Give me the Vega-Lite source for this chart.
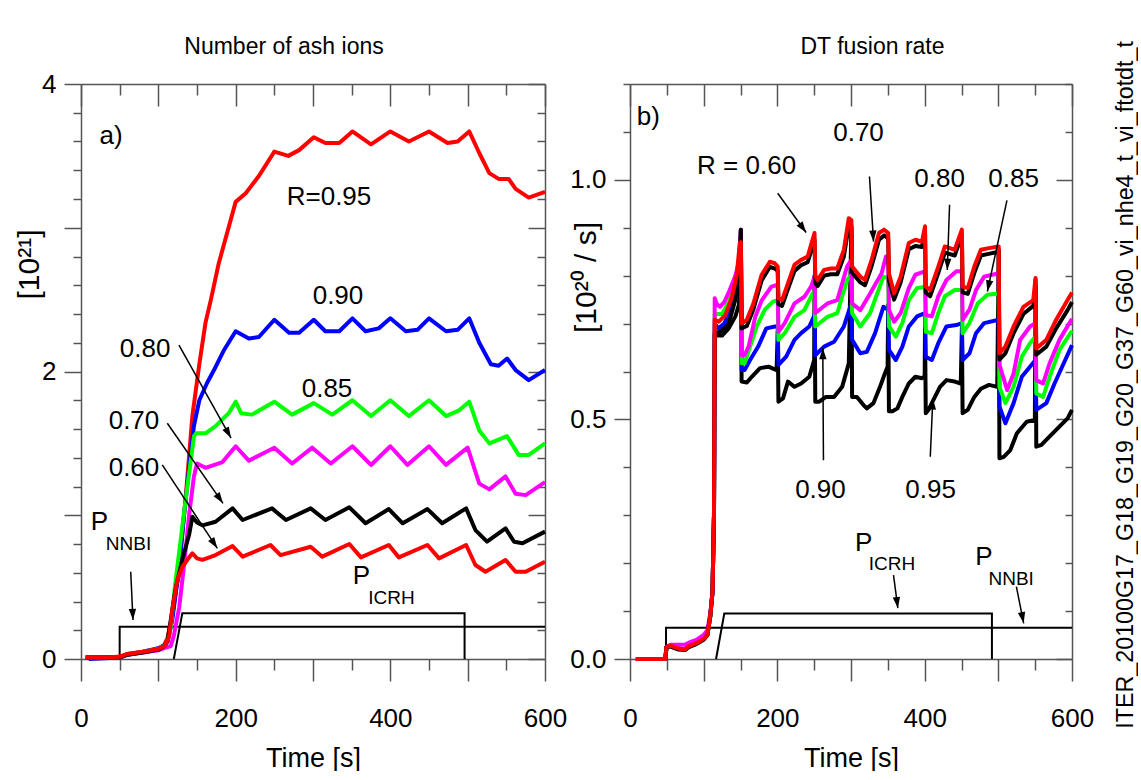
{
  "$schema": "https://vega.github.io/schema/vega-lite/v6.json",
  "background": "white",
  "padding": {"left": 14, "top": 36, "right": 0, "bottom": 0},
  "spacing": 85,
  "bounds": "flush",
  "resolve": {"scale": {"color": "independent"}},
  "config": {
    "font": "Liberation Sans, Arial, sans-serif",
    "view": {"stroke": null},
    "axis": {"grid": false, "domainColor": "#555", "domainWidth": 1.5, "tickColor": "#555", "tickWidth": 1.5, "labelColor": "black", "titleColor": "black", "labelFontSize": 26, "titleFontSize": 27, "titleFontWeight": "normal", "labelOverlap": false, "labelFlush": false}
  },
  "datasets": {
    "ash": [
      {"R":"0.95","t":6,"v":0.01},{"R":"0.95","t":30,"v":0.01},{"R":"0.95","t":50,"v":0.015},{"R":"0.95","t":60,"v":0.035},{"R":"0.95","t":80,"v":0.05},{"R":"0.95","t":100,"v":0.07},{"R":"0.95","t":108,"v":0.1},{"R":"0.95","t":112,"v":0.15},{"R":"0.95","t":118,"v":0.3},{"R":"0.95","t":127,"v":0.64},{"R":"0.95","t":135,"v":1.1},{"R":"0.95","t":144,"v":1.69},{"R":"0.95","t":153,"v":2.05},{"R":"0.95","t":161,"v":2.34},{"R":"0.95","t":168,"v":2.5},{"R":"0.95","t":178,"v":2.75},{"R":"0.95","t":200,"v":3.18},{"R":"0.95","t":213,"v":3.24},{"R":"0.95","t":230,"v":3.36},{"R":"0.95","t":250,"v":3.53},{"R":"0.95","t":268,"v":3.5},{"R":"0.95","t":282,"v":3.54},{"R":"0.95","t":301,"v":3.63},{"R":"0.95","t":316,"v":3.59},{"R":"0.95","t":334,"v":3.59},{"R":"0.95","t":351,"v":3.67},{"R":"0.95","t":375,"v":3.58},{"R":"0.95","t":400,"v":3.67},{"R":"0.95","t":424,"v":3.6},{"R":"0.95","t":450,"v":3.67},{"R":"0.95","t":474,"v":3.59},{"R":"0.95","t":487,"v":3.6},{"R":"0.95","t":502,"v":3.67},{"R":"0.95","t":515,"v":3.52},{"R":"0.95","t":528,"v":3.38},{"R":"0.95","t":540,"v":3.34},{"R":"0.95","t":553,"v":3.34},{"R":"0.95","t":562,"v":3.27},{"R":"0.95","t":579,"v":3.21},{"R":"0.95","t":600,"v":3.25},
      {"R":"0.90","t":10,"v":0.0},{"R":"0.90","t":30,"v":0.005},{"R":"0.90","t":50,"v":0.01},{"R":"0.90","t":60,"v":0.03},{"R":"0.90","t":80,"v":0.05},{"R":"0.90","t":100,"v":0.075},{"R":"0.90","t":108,"v":0.095},{"R":"0.90","t":112,"v":0.12},{"R":"0.90","t":118,"v":0.27},{"R":"0.90","t":127,"v":0.64},{"R":"0.90","t":133,"v":0.99},{"R":"0.90","t":140,"v":1.34},{"R":"0.90","t":146,"v":1.62},{"R":"0.90","t":153,"v":1.8},{"R":"0.90","t":163,"v":1.92},{"R":"0.90","t":172,"v":2.01},{"R":"0.90","t":185,"v":2.15},{"R":"0.90","t":200,"v":2.28},{"R":"0.90","t":217,"v":2.23},{"R":"0.90","t":230,"v":2.24},{"R":"0.90","t":250,"v":2.36},{"R":"0.90","t":269,"v":2.27},{"R":"0.90","t":282,"v":2.27},{"R":"0.90","t":301,"v":2.36},{"R":"0.90","t":316,"v":2.28},{"R":"0.90","t":334,"v":2.28},{"R":"0.90","t":351,"v":2.37},{"R":"0.90","t":368,"v":2.28},{"R":"0.90","t":385,"v":2.3},{"R":"0.90","t":400,"v":2.37},{"R":"0.90","t":420,"v":2.28},{"R":"0.90","t":435,"v":2.29},{"R":"0.90","t":450,"v":2.37},{"R":"0.90","t":472,"v":2.28},{"R":"0.90","t":487,"v":2.29},{"R":"0.90","t":502,"v":2.37},{"R":"0.90","t":515,"v":2.2},{"R":"0.90","t":530,"v":2.05},{"R":"0.90","t":540,"v":2.04},{"R":"0.90","t":551,"v":2.09},{"R":"0.90","t":562,"v":2.01},{"R":"0.90","t":579,"v":1.94},{"R":"0.90","t":600,"v":2.01},
      {"R":"0.85","t":6,"v":0.01},{"R":"0.85","t":30,"v":0.01},{"R":"0.85","t":50,"v":0.012},{"R":"0.85","t":60,"v":0.03},{"R":"0.85","t":80,"v":0.05},{"R":"0.85","t":100,"v":0.07},{"R":"0.85","t":110,"v":0.1},{"R":"0.85","t":116,"v":0.22},{"R":"0.85","t":122,"v":0.53},{"R":"0.85","t":131,"v":0.92},{"R":"0.85","t":137.5,"v":1.2},{"R":"0.85","t":142,"v":1.38},{"R":"0.85","t":146,"v":1.55},{"R":"0.85","t":149,"v":1.57},{"R":"0.85","t":161,"v":1.57},{"R":"0.85","t":174,"v":1.62},{"R":"0.85","t":191,"v":1.71},{"R":"0.85","t":200,"v":1.79},{"R":"0.85","t":207,"v":1.71},{"R":"0.85","t":221,"v":1.7},{"R":"0.85","t":250,"v":1.79},{"R":"0.85","t":273,"v":1.7},{"R":"0.85","t":301,"v":1.78},{"R":"0.85","t":325,"v":1.7},{"R":"0.85","t":351,"v":1.8},{"R":"0.85","t":375,"v":1.69},{"R":"0.85","t":400,"v":1.8},{"R":"0.85","t":424,"v":1.69},{"R":"0.85","t":450,"v":1.8},{"R":"0.85","t":472,"v":1.69},{"R":"0.85","t":489,"v":1.73},{"R":"0.85","t":502,"v":1.79},{"R":"0.85","t":515,"v":1.59},{"R":"0.85","t":528,"v":1.5},{"R":"0.85","t":551,"v":1.55},{"R":"0.85","t":566,"v":1.42},{"R":"0.85","t":579,"v":1.42},{"R":"0.85","t":600,"v":1.5},
      {"R":"0.80","t":6,"v":0.01},{"R":"0.80","t":30,"v":0.01},{"R":"0.80","t":50,"v":0.012},{"R":"0.80","t":60,"v":0.03},{"R":"0.80","t":80,"v":0.045},{"R":"0.80","t":100,"v":0.06},{"R":"0.80","t":110,"v":0.08},{"R":"0.80","t":116,"v":0.09},{"R":"0.80","t":120,"v":0.16},{"R":"0.80","t":127,"v":0.36},{"R":"0.80","t":133,"v":0.64},{"R":"0.80","t":140,"v":1.01},{"R":"0.80","t":146,"v":1.27},{"R":"0.80","t":150,"v":1.36},{"R":"0.80","t":161,"v":1.33},{"R":"0.80","t":183,"v":1.37},{"R":"0.80","t":200,"v":1.48},{"R":"0.80","t":217,"v":1.38},{"R":"0.80","t":250,"v":1.47},{"R":"0.80","t":273,"v":1.36},{"R":"0.80","t":299,"v":1.47},{"R":"0.80","t":323,"v":1.36},{"R":"0.80","t":351,"v":1.48},{"R":"0.80","t":375,"v":1.35},{"R":"0.80","t":400,"v":1.48},{"R":"0.80","t":422,"v":1.35},{"R":"0.80","t":450,"v":1.48},{"R":"0.80","t":472,"v":1.35},{"R":"0.80","t":500,"v":1.47},{"R":"0.80","t":515,"v":1.22},{"R":"0.80","t":528,"v":1.18},{"R":"0.80","t":549,"v":1.27},{"R":"0.80","t":562,"v":1.15},{"R":"0.80","t":575,"v":1.14},{"R":"0.80","t":600,"v":1.23},
      {"R":"0.70","t":6,"v":0.01},{"R":"0.70","t":30,"v":0.01},{"R":"0.70","t":50,"v":0.012},{"R":"0.70","t":60,"v":0.03},{"R":"0.70","t":80,"v":0.045},{"R":"0.70","t":100,"v":0.065},{"R":"0.70","t":108,"v":0.09},{"R":"0.70","t":112,"v":0.13},{"R":"0.70","t":116,"v":0.27},{"R":"0.70","t":122,"v":0.48},{"R":"0.70","t":131,"v":0.69},{"R":"0.70","t":140,"v":0.87},{"R":"0.70","t":144,"v":0.99},{"R":"0.70","t":150,"v":0.95},{"R":"0.70","t":157,"v":0.93},{"R":"0.70","t":174,"v":0.955},{"R":"0.70","t":196,"v":1.048},{"R":"0.70","t":209,"v":0.967},{"R":"0.70","t":247,"v":1.048},{"R":"0.70","t":265,"v":0.967},{"R":"0.70","t":297,"v":1.048},{"R":"0.70","t":316,"v":0.967},{"R":"0.70","t":347,"v":1.055},{"R":"0.70","t":368,"v":0.944},{"R":"0.70","t":398,"v":1.043},{"R":"0.70","t":416,"v":0.944},{"R":"0.70","t":448,"v":1.043},{"R":"0.70","t":467,"v":0.944},{"R":"0.70","t":498,"v":1.048},{"R":"0.70","t":510,"v":0.897},{"R":"0.70","t":525,"v":0.816},{"R":"0.70","t":549,"v":0.909},{"R":"0.70","t":560,"v":0.816},{"R":"0.70","t":571,"v":0.805},{"R":"0.70","t":600,"v":0.886},
      {"R":"0.60","t":6,"v":0.01},{"R":"0.60","t":30,"v":0.01},{"R":"0.60","t":50,"v":0.015},{"R":"0.60","t":60,"v":0.035},{"R":"0.60","t":80,"v":0.05},{"R":"0.60","t":100,"v":0.07},{"R":"0.60","t":108,"v":0.09},{"R":"0.60","t":112,"v":0.13},{"R":"0.60","t":114,"v":0.16},{"R":"0.60","t":118,"v":0.34},{"R":"0.60","t":124.5,"v":0.55},{"R":"0.60","t":131,"v":0.64},{"R":"0.60","t":137.5,"v":0.69},{"R":"0.60","t":144,"v":0.735},{"R":"0.60","t":150,"v":0.7},{"R":"0.60","t":157,"v":0.69},{"R":"0.60","t":174,"v":0.723},{"R":"0.60","t":196,"v":0.786},{"R":"0.60","t":209,"v":0.712},{"R":"0.60","t":245,"v":0.793},{"R":"0.60","t":258,"v":0.723},{"R":"0.60","t":297,"v":0.781},{"R":"0.60","t":312,"v":0.712},{"R":"0.60","t":347,"v":0.8},{"R":"0.60","t":362,"v":0.707},{"R":"0.60","t":398,"v":0.793},{"R":"0.60","t":411,"v":0.707},{"R":"0.60","t":448,"v":0.793},{"R":"0.60","t":463,"v":0.7},{"R":"0.60","t":498,"v":0.793},{"R":"0.60","t":510,"v":0.654},{"R":"0.60","t":523,"v":0.607},{"R":"0.60","t":549,"v":0.689},{"R":"0.60","t":562,"v":0.607},{"R":"0.60","t":575,"v":0.607},{"R":"0.60","t":600,"v":0.677}
    ],
    "fus": [
      {"R":"0.95","t":8,"v":0},{"R":"0.95","t":48,"v":0},{"R":"0.95","t":49.5,"v":0.025},{"R":"0.95","t":55,"v":0.028},{"R":"0.95","t":65,"v":0.022},{"R":"0.95","t":75,"v":0.02},{"R":"0.95","t":80,"v":0.027},{"R":"0.95","t":90,"v":0.033},{"R":"0.95","t":100,"v":0.042},{"R":"0.95","t":105,"v":0.05},{"R":"0.95","t":109,"v":0.09},{"R":"0.95","t":112,"v":0.14},{"R":"0.95","t":114,"v":0.3},{"R":"0.95","t":115,"v":0.675},{"R":"0.95","t":125,"v":0.675},{"R":"0.95","t":134,"v":0.69},{"R":"0.95","t":143,"v":0.715},{"R":"0.95","t":148,"v":0.74},{"R":"0.95","t":150.5,"v":0.896},{"R":"0.95","t":151.5,"v":0.579},{"R":"0.95","t":158.6,"v":0.577},{"R":"0.95","t":165.3,"v":0.589},{"R":"0.95","t":176.5,"v":0.607},{"R":"0.95","t":188,"v":0.61},{"R":"0.95","t":199,"v":0.603},{"R":"0.95","t":200.5,"v":0.683},{"R":"0.95","t":201.5,"v":0.537},{"R":"0.95","t":207.7,"v":0.544},{"R":"0.95","t":214.4,"v":0.579},{"R":"0.95","t":223.3,"v":0.568},{"R":"0.95","t":232.3,"v":0.575},{"R":"0.95","t":243.4,"v":0.589},{"R":"0.95","t":250,"v":0.624},{"R":"0.95","t":250.5,"v":0.8},{"R":"0.95","t":251.5,"v":0.537},{"R":"0.95","t":257,"v":0.537},{"R":"0.95","t":266,"v":0.547},{"R":"0.95","t":277,"v":0.547},{"R":"0.95","t":288,"v":0.568},{"R":"0.95","t":297,"v":0.617},{"R":"0.95","t":300.5,"v":0.9},{"R":"0.95","t":301.5,"v":0.547},{"R":"0.95","t":308,"v":0.547},{"R":"0.95","t":317,"v":0.53},{"R":"0.95","t":321.5,"v":0.523},{"R":"0.95","t":330.5,"v":0.534},{"R":"0.95","t":339.4,"v":0.568},{"R":"0.95","t":346,"v":0.596},{"R":"0.95","t":349.7,"v":0.61},{"R":"0.95","t":350.5,"v":0.74},{"R":"0.95","t":351.5,"v":0.517},{"R":"0.95","t":356.3,"v":0.517},{"R":"0.95","t":363,"v":0.523},{"R":"0.95","t":369.7,"v":0.547},{"R":"0.95","t":378.5,"v":0.575},{"R":"0.95","t":387.4,"v":0.589},{"R":"0.95","t":396.3,"v":0.586},{"R":"0.95","t":400,"v":0.59},{"R":"0.95","t":400.5,"v":0.69},{"R":"0.95","t":401.5,"v":0.513},{"R":"0.95","t":405.2,"v":0.52},{"R":"0.95","t":411.9,"v":0.541},{"R":"0.95","t":420.8,"v":0.568},{"R":"0.95","t":429.6,"v":0.582},{"R":"0.95","t":440.8,"v":0.579},{"R":"0.95","t":449,"v":0.575},{"R":"0.95","t":450.5,"v":0.69},{"R":"0.95","t":451.5,"v":0.513},{"R":"0.95","t":458.5,"v":0.52},{"R":"0.95","t":467.4,"v":0.547},{"R":"0.95","t":476.3,"v":0.564},{"R":"0.95","t":487.4,"v":0.572},{"R":"0.95","t":498.5,"v":0.568},{"R":"0.95","t":500.5,"v":0.854},{"R":"0.95","t":501.5,"v":0.419},{"R":"0.95","t":507.4,"v":0.422},{"R":"0.95","t":516.3,"v":0.436},{"R":"0.95","t":525.2,"v":0.471},{"R":"0.95","t":538.5,"v":0.495},{"R":"0.95","t":549.6,"v":0.499},{"R":"0.95","t":550.5,"v":0.791},{"R":"0.95","t":551.5,"v":0.443},{"R":"0.95","t":558.5,"v":0.447},{"R":"0.95","t":567.4,"v":0.461},{"R":"0.95","t":578.5,"v":0.478},{"R":"0.95","t":594,"v":0.502},{"R":"0.95","t":600,"v":0.52},
      {"R":"0.90","t":8,"v":0},{"R":"0.90","t":48,"v":0},{"R":"0.90","t":49.5,"v":0.025},{"R":"0.90","t":55,"v":0.028},{"R":"0.90","t":65,"v":0.022},{"R":"0.90","t":75,"v":0.02},{"R":"0.90","t":80,"v":0.027},{"R":"0.90","t":90,"v":0.033},{"R":"0.90","t":100,"v":0.042},{"R":"0.90","t":105,"v":0.05},{"R":"0.90","t":109,"v":0.09},{"R":"0.90","t":112,"v":0.14},{"R":"0.90","t":114,"v":0.3},{"R":"0.90","t":115,"v":0.7},{"R":"0.90","t":120,"v":0.69},{"R":"0.90","t":128,"v":0.7},{"R":"0.90","t":134,"v":0.72},{"R":"0.90","t":143,"v":0.76},{"R":"0.90","t":148,"v":0.8},{"R":"0.90","t":150.5,"v":0.87},{"R":"0.90","t":151.5,"v":0.603},{"R":"0.90","t":155.5,"v":0.603},{"R":"0.90","t":163,"v":0.624},{"R":"0.90","t":174,"v":0.652},{"R":"0.90","t":185,"v":0.69},{"R":"0.90","t":197,"v":0.694},{"R":"0.90","t":200.5,"v":0.694},{"R":"0.90","t":201.5,"v":0.614},{"R":"0.90","t":212,"v":0.631},{"R":"0.90","t":223.3,"v":0.666},{"R":"0.90","t":232.3,"v":0.68},{"R":"0.90","t":243.4,"v":0.694},{"R":"0.90","t":250.5,"v":0.718},{"R":"0.90","t":251.5,"v":0.634},{"R":"0.90","t":263.5,"v":0.652},{"R":"0.90","t":277,"v":0.662},{"R":"0.90","t":290.3,"v":0.694},{"R":"0.90","t":300.5,"v":0.742},{"R":"0.90","t":301.5,"v":0.666},{"R":"0.90","t":312.6,"v":0.638},{"R":"0.90","t":321.5,"v":0.641},{"R":"0.90","t":332.7,"v":0.68},{"R":"0.90","t":344,"v":0.735},{"R":"0.90","t":350.5,"v":0.729},{"R":"0.90","t":351.5,"v":0.645},{"R":"0.90","t":360.8,"v":0.624},{"R":"0.90","t":369.7,"v":0.652},{"R":"0.90","t":378.5,"v":0.694},{"R":"0.90","t":389.6,"v":0.715},{"R":"0.90","t":400.5,"v":0.722},{"R":"0.90","t":401.5,"v":0.631},{"R":"0.90","t":409.7,"v":0.624},{"R":"0.90","t":418.5,"v":0.659},{"R":"0.90","t":429.6,"v":0.694},{"R":"0.90","t":443,"v":0.697},{"R":"0.90","t":450.5,"v":0.701},{"R":"0.90","t":451.5,"v":0.624},{"R":"0.90","t":460.8,"v":0.638},{"R":"0.90","t":469.7,"v":0.68},{"R":"0.90","t":480.8,"v":0.701},{"R":"0.90","t":500.5,"v":0.708},{"R":"0.90","t":501.5,"v":0.527},{"R":"0.90","t":509.6,"v":0.492},{"R":"0.90","t":520.7,"v":0.534},{"R":"0.90","t":531.9,"v":0.589},{"R":"0.90","t":543,"v":0.61},{"R":"0.90","t":550.5,"v":0.624},{"R":"0.90","t":551.5,"v":0.52},{"R":"0.90","t":565.2,"v":0.534},{"R":"0.90","t":576.3,"v":0.575},{"R":"0.90","t":600,"v":0.655},
      {"R":"0.85","t":8,"v":0},{"R":"0.85","t":48,"v":0},{"R":"0.85","t":49.5,"v":0.025},{"R":"0.85","t":55,"v":0.028},{"R":"0.85","t":65,"v":0.022},{"R":"0.85","t":75,"v":0.02},{"R":"0.85","t":80,"v":0.027},{"R":"0.85","t":90,"v":0.033},{"R":"0.85","t":100,"v":0.042},{"R":"0.85","t":105,"v":0.05},{"R":"0.85","t":109,"v":0.09},{"R":"0.85","t":112,"v":0.14},{"R":"0.85","t":114,"v":0.3},{"R":"0.85","t":115,"v":0.72},{"R":"0.85","t":125,"v":0.72},{"R":"0.85","t":134,"v":0.745},{"R":"0.85","t":143,"v":0.79},{"R":"0.85","t":148,"v":0.82},{"R":"0.85","t":150.5,"v":0.88},{"R":"0.85","t":151.5,"v":0.617},{"R":"0.85","t":155.5,"v":0.617},{"R":"0.85","t":163,"v":0.652},{"R":"0.85","t":172,"v":0.694},{"R":"0.85","t":183,"v":0.729},{"R":"0.85","t":194,"v":0.746},{"R":"0.85","t":200.5,"v":0.749},{"R":"0.85","t":201.5,"v":0.666},{"R":"0.85","t":210,"v":0.68},{"R":"0.85","t":223.3,"v":0.714},{"R":"0.85","t":236.7,"v":0.728},{"R":"0.85","t":247.9,"v":0.763},{"R":"0.85","t":250.5,"v":0.765},{"R":"0.85","t":251.5,"v":0.694},{"R":"0.85","t":268,"v":0.714},{"R":"0.85","t":281.4,"v":0.722},{"R":"0.85","t":294.7,"v":0.791},{"R":"0.85","t":300.5,"v":0.802},{"R":"0.85","t":301.5,"v":0.722},{"R":"0.85","t":312.6,"v":0.694},{"R":"0.85","t":326,"v":0.722},{"R":"0.85","t":344,"v":0.798},{"R":"0.85","t":350.5,"v":0.795},{"R":"0.85","t":351.5,"v":0.694},{"R":"0.85","t":360.8,"v":0.673},{"R":"0.85","t":369.7,"v":0.701},{"R":"0.85","t":378.5,"v":0.749},{"R":"0.85","t":389.6,"v":0.774},{"R":"0.85","t":400.5,"v":0.777},{"R":"0.85","t":401.5,"v":0.683},{"R":"0.85","t":409.7,"v":0.68},{"R":"0.85","t":418.5,"v":0.722},{"R":"0.85","t":427.4,"v":0.757},{"R":"0.85","t":440.8,"v":0.77},{"R":"0.85","t":450.5,"v":0.77},{"R":"0.85","t":451.5,"v":0.68},{"R":"0.85","t":460.8,"v":0.701},{"R":"0.85","t":471.9,"v":0.742},{"R":"0.85","t":485.2,"v":0.76},{"R":"0.85","t":500.5,"v":0.763},{"R":"0.85","t":501.5,"v":0.568},{"R":"0.85","t":509.6,"v":0.534},{"R":"0.85","t":520.7,"v":0.568},{"R":"0.85","t":531.9,"v":0.631},{"R":"0.85","t":543,"v":0.659},{"R":"0.85","t":550.5,"v":0.673},{"R":"0.85","t":551.5,"v":0.554},{"R":"0.85","t":560.8,"v":0.547},{"R":"0.85","t":569.6,"v":0.589},{"R":"0.85","t":583,"v":0.645},{"R":"0.85","t":600,"v":0.685},
      {"R":"0.80","t":8,"v":0},{"R":"0.80","t":48,"v":0},{"R":"0.80","t":49.5,"v":0.025},{"R":"0.80","t":55,"v":0.03},{"R":"0.80","t":65,"v":0.03},{"R":"0.80","t":75,"v":0.03},{"R":"0.80","t":80,"v":0.034},{"R":"0.80","t":90,"v":0.04},{"R":"0.80","t":100,"v":0.05},{"R":"0.80","t":105,"v":0.06},{"R":"0.80","t":109,"v":0.095},{"R":"0.80","t":112,"v":0.14},{"R":"0.80","t":114,"v":0.3},{"R":"0.80","t":115,"v":0.753},{"R":"0.80","t":118,"v":0.74},{"R":"0.80","t":122,"v":0.735},{"R":"0.80","t":128,"v":0.745},{"R":"0.80","t":134,"v":0.765},{"R":"0.80","t":143,"v":0.8},{"R":"0.80","t":148,"v":0.83},{"R":"0.80","t":150.5,"v":0.896},{"R":"0.80","t":151.5,"v":0.634},{"R":"0.80","t":155.5,"v":0.634},{"R":"0.80","t":161,"v":0.652},{"R":"0.80","t":170,"v":0.714},{"R":"0.80","t":179,"v":0.749},{"R":"0.80","t":192,"v":0.777},{"R":"0.80","t":200.5,"v":0.781},{"R":"0.80","t":201.5,"v":0.683},{"R":"0.80","t":210,"v":0.701},{"R":"0.80","t":223.3,"v":0.742},{"R":"0.80","t":236.7,"v":0.756},{"R":"0.80","t":245.8,"v":0.777},{"R":"0.80","t":250.5,"v":0.798},{"R":"0.80","t":251.5,"v":0.722},{"R":"0.80","t":268,"v":0.742},{"R":"0.80","t":281.4,"v":0.749},{"R":"0.80","t":294.7,"v":0.819},{"R":"0.80","t":300.5,"v":0.833},{"R":"0.80","t":301.5,"v":0.742},{"R":"0.80","t":312.6,"v":0.728},{"R":"0.80","t":326,"v":0.763},{"R":"0.80","t":341.6,"v":0.805},{"R":"0.80","t":347.4,"v":0.84},{"R":"0.80","t":350.5,"v":0.836},{"R":"0.80","t":351.5,"v":0.729},{"R":"0.80","t":358.5,"v":0.704},{"R":"0.80","t":367.4,"v":0.722},{"R":"0.80","t":378.5,"v":0.774},{"R":"0.80","t":387.4,"v":0.802},{"R":"0.80","t":400.5,"v":0.809},{"R":"0.80","t":401.5,"v":0.718},{"R":"0.80","t":409.7,"v":0.715},{"R":"0.80","t":418.5,"v":0.757},{"R":"0.80","t":429.6,"v":0.791},{"R":"0.80","t":443,"v":0.809},{"R":"0.80","t":450.5,"v":0.809},{"R":"0.80","t":451.5,"v":0.708},{"R":"0.80","t":460.8,"v":0.729},{"R":"0.80","t":469.7,"v":0.77},{"R":"0.80","t":480.8,"v":0.798},{"R":"0.80","t":500.5,"v":0.805},{"R":"0.80","t":501.5,"v":0.614},{"R":"0.80","t":512,"v":0.561},{"R":"0.80","t":520.7,"v":0.596},{"R":"0.80","t":529.6,"v":0.666},{"R":"0.80","t":543,"v":0.694},{"R":"0.80","t":550.5,"v":0.701},{"R":"0.80","t":551.5,"v":0.582},{"R":"0.80","t":560.8,"v":0.575},{"R":"0.80","t":569.6,"v":0.617},{"R":"0.80","t":583,"v":0.666},{"R":"0.80","t":600,"v":0.71},
      {"R":"0.70","t":8,"v":0},{"R":"0.70","t":48,"v":0},{"R":"0.70","t":49.5,"v":0.025},{"R":"0.70","t":55,"v":0.026},{"R":"0.70","t":65,"v":0.02},{"R":"0.70","t":75,"v":0.019},{"R":"0.70","t":80,"v":0.025},{"R":"0.70","t":90,"v":0.031},{"R":"0.70","t":100,"v":0.04},{"R":"0.70","t":105,"v":0.05},{"R":"0.70","t":109,"v":0.09},{"R":"0.70","t":112,"v":0.14},{"R":"0.70","t":114,"v":0.3},{"R":"0.70","t":115,"v":0.68},{"R":"0.70","t":123,"v":0.683},{"R":"0.70","t":134,"v":0.7},{"R":"0.70","t":143,"v":0.75},{"R":"0.70","t":148,"v":0.82},{"R":"0.70","t":150.5,"v":0.896},{"R":"0.70","t":151.5,"v":0.69},{"R":"0.70","t":158.6,"v":0.695},{"R":"0.70","t":167.5,"v":0.73},{"R":"0.70","t":178.7,"v":0.79},{"R":"0.70","t":189.8,"v":0.818},{"R":"0.70","t":196.5,"v":0.815},{"R":"0.70","t":200.5,"v":0.81},{"R":"0.70","t":201.5,"v":0.74},{"R":"0.70","t":206.4,"v":0.737},{"R":"0.70","t":214.4,"v":0.772},{"R":"0.70","t":223.3,"v":0.81},{"R":"0.70","t":232.3,"v":0.822},{"R":"0.70","t":241.2,"v":0.828},{"R":"0.70","t":246.5,"v":0.855},{"R":"0.70","t":250.5,"v":0.875},{"R":"0.70","t":251.5,"v":0.785},{"R":"0.70","t":254.6,"v":0.778},{"R":"0.70","t":263.5,"v":0.8},{"R":"0.70","t":272.4,"v":0.803},{"R":"0.70","t":281.4,"v":0.803},{"R":"0.70","t":290.3,"v":0.84},{"R":"0.70","t":297,"v":0.905},{"R":"0.70","t":300.5,"v":0.905},{"R":"0.70","t":301.5,"v":0.806},{"R":"0.70","t":312.6,"v":0.786},{"R":"0.70","t":319,"v":0.78},{"R":"0.70","t":328,"v":0.82},{"R":"0.70","t":338,"v":0.875},{"R":"0.70","t":345,"v":0.884},{"R":"0.70","t":350.5,"v":0.878},{"R":"0.70","t":351.5,"v":0.79},{"R":"0.70","t":358.5,"v":0.75},{"R":"0.70","t":367.4,"v":0.786},{"R":"0.70","t":378.5,"v":0.855},{"R":"0.70","t":387.4,"v":0.862},{"R":"0.70","t":396.3,"v":0.86},{"R":"0.70","t":400.5,"v":0.89},{"R":"0.70","t":401.5,"v":0.765},{"R":"0.70","t":407.4,"v":0.757},{"R":"0.70","t":418.5,"v":0.806},{"R":"0.70","t":427.4,"v":0.848},{"R":"0.70","t":440.8,"v":0.842},{"R":"0.70","t":450.5,"v":0.885},{"R":"0.70","t":451.5,"v":0.765},{"R":"0.70","t":458.5,"v":0.762},{"R":"0.70","t":467.4,"v":0.806},{"R":"0.70","t":476.3,"v":0.842},{"R":"0.70","t":485.2,"v":0.845},{"R":"0.70","t":500.5,"v":0.85},{"R":"0.70","t":501.5,"v":0.625},{"R":"0.70","t":509.6,"v":0.638},{"R":"0.70","t":520.7,"v":0.68},{"R":"0.70","t":534,"v":0.72},{"R":"0.70","t":547.4,"v":0.737},{"R":"0.70","t":550.5,"v":0.78},{"R":"0.70","t":551.5,"v":0.635},{"R":"0.70","t":565.2,"v":0.652},{"R":"0.70","t":578.5,"v":0.69},{"R":"0.70","t":594,"v":0.728},{"R":"0.70","t":600,"v":0.745},
      {"R":"0.60","t":8,"v":0},{"R":"0.60","t":48,"v":0},{"R":"0.60","t":49.5,"v":0.025},{"R":"0.60","t":55,"v":0.028},{"R":"0.60","t":65,"v":0.022},{"R":"0.60","t":75,"v":0.02},{"R":"0.60","t":80,"v":0.027},{"R":"0.60","t":90,"v":0.033},{"R":"0.60","t":100,"v":0.042},{"R":"0.60","t":105,"v":0.05},{"R":"0.60","t":109,"v":0.09},{"R":"0.60","t":112,"v":0.14},{"R":"0.60","t":114,"v":0.3},{"R":"0.60","t":115,"v":0.708},{"R":"0.60","t":120.6,"v":0.704},{"R":"0.60","t":129.6,"v":0.718},{"R":"0.60","t":138.5,"v":0.756},{"R":"0.60","t":145,"v":0.802},{"R":"0.60","t":149,"v":0.868},{"R":"0.60","t":150.5,"v":0.87},{"R":"0.60","t":151.5,"v":0.7},{"R":"0.60","t":158.6,"v":0.708},{"R":"0.60","t":167.5,"v":0.742},{"R":"0.60","t":178.7,"v":0.802},{"R":"0.60","t":189.8,"v":0.829},{"R":"0.60","t":196.5,"v":0.826},{"R":"0.60","t":200.5,"v":0.819},{"R":"0.60","t":201.5,"v":0.753},{"R":"0.60","t":206.4,"v":0.749},{"R":"0.60","t":214.4,"v":0.784},{"R":"0.60","t":223.3,"v":0.823},{"R":"0.60","t":232.3,"v":0.833},{"R":"0.60","t":241.2,"v":0.84},{"R":"0.60","t":246.5,"v":0.868},{"R":"0.60","t":250.5,"v":0.889},{"R":"0.60","t":251.5,"v":0.8},{"R":"0.60","t":254.6,"v":0.791},{"R":"0.60","t":263.5,"v":0.812},{"R":"0.60","t":272.4,"v":0.815},{"R":"0.60","t":281.4,"v":0.815},{"R":"0.60","t":290.3,"v":0.854},{"R":"0.60","t":297,"v":0.92},{"R":"0.60","t":300.5,"v":0.916},{"R":"0.60","t":301.5,"v":0.819},{"R":"0.60","t":312.6,"v":0.798},{"R":"0.60","t":319,"v":0.791},{"R":"0.60","t":328,"v":0.833},{"R":"0.60","t":338,"v":0.889},{"R":"0.60","t":345,"v":0.896},{"R":"0.60","t":350.5,"v":0.889},{"R":"0.60","t":351.5,"v":0.805},{"R":"0.60","t":358.5,"v":0.763},{"R":"0.60","t":367.4,"v":0.798},{"R":"0.60","t":378.5,"v":0.868},{"R":"0.60","t":387.4,"v":0.875},{"R":"0.60","t":396.3,"v":0.871},{"R":"0.60","t":400.5,"v":0.903},{"R":"0.60","t":401.5,"v":0.777},{"R":"0.60","t":407.4,"v":0.77},{"R":"0.60","t":418.5,"v":0.819},{"R":"0.60","t":427.4,"v":0.861},{"R":"0.60","t":440.8,"v":0.854},{"R":"0.60","t":450.5,"v":0.896},{"R":"0.60","t":451.5,"v":0.777},{"R":"0.60","t":458.5,"v":0.774},{"R":"0.60","t":467.4,"v":0.819},{"R":"0.60","t":476.3,"v":0.854},{"R":"0.60","t":485.2,"v":0.857},{"R":"0.60","t":500.5,"v":0.861},{"R":"0.60","t":501.5,"v":0.638},{"R":"0.60","t":509.6,"v":0.652},{"R":"0.60","t":520.7,"v":0.694},{"R":"0.60","t":534,"v":0.735},{"R":"0.60","t":547.4,"v":0.749},{"R":"0.60","t":550.5,"v":0.795},{"R":"0.60","t":551.5,"v":0.648},{"R":"0.60","t":565.2,"v":0.666},{"R":"0.60","t":578.5,"v":0.708},{"R":"0.60","t":594,"v":0.749},{"R":"0.60","t":600,"v":0.765}
    ],
    "pow_l": [
      {"name":"NNBI","t":50,"v":0},{"name":"NNBI","t":50.01,"v":0.225},{"name":"NNBI","t":600,"v":0.225},
      {"name":"ICRH","t":120,"v":0},{"name":"ICRH","t":131,"v":0.318},{"name":"ICRH","t":496,"v":0.318},{"name":"ICRH","t":496.01,"v":0}
    ],
    "pow_r": [
      {"name":"NNBI","t":48.9,"v":0},{"name":"NNBI","t":48.91,"v":0.065},{"name":"NNBI","t":600,"v":0.065},
      {"name":"ICRH","t":116.8,"v":0},{"name":"ICRH","t":128,"v":0.095},{"name":"ICRH","t":491.3,"v":0.095},{"name":"ICRH","t":491.31,"v":0}
    ],
    "arr_l": [
      {"x":126.7,"y":2.184,"x2":194,"y2":1.537},
      {"x":111.6,"y":1.64,"x2":183.6,"y2":1.083},
      {"x":105.1,"y":1.35,"x2":176.3,"y2":0.77},
      {"x":64.3,"y":0.607,"x2":67.2,"y2":0.271}
    ],
    "arr_r": [
      {"x":200.5,"y":0.972,"x2":239.1,"y2":0.89},
      {"x":325.1,"y":1.007,"x2":330.6,"y2":0.871},
      {"x":433.8,"y":0.948,"x2":430.7,"y2":0.812},
      {"x":511.7,"y":0.957,"x2":485.1,"y2":0.767},
      {"x":262.6,"y":0.415,"x2":261.7,"y2":0.649},
      {"x":407.6,"y":0.422,"x2":411.1,"y2":0.544},
      {"x":357.7,"y":0.175,"x2":363.6,"y2":0.106},
      {"x":524.5,"y":0.151,"x2":534.4,"y2":0.0745}
    ],
    "lab_l": [
      {"txt":"a)","x":38.8,"y":3.638},
      {"txt":"R=0.95","x":320.7,"y":3.214},
      {"txt":"0.90","x":332.3,"y":2.525},
      {"txt":"0.80","x":82.8,"y":2.157},
      {"txt":"0.85","x":318.1,"y":1.878},
      {"txt":"0.70","x":68.5,"y":1.656},
      {"txt":"0.60","x":68.5,"y":1.329},
      {"txt":"P","x":23.9,"y":0.95},
      {"txt":"P","x":362.7,"y":0.577}
    ],
    "sub_l": [
      {"txt":"NNBI","x":61.4,"y":0.803},
      {"txt":"ICRH","x":401.5,"y":0.421}
    ],
    "ttl_l": [
      {"txt":"Number of ash ions","x":262.5,"y":4.257}
    ],
    "lab_r": [
      {"txt":"b)","x":24.9,"y":1.132},
      {"txt":"R = 0.60","x":158.3,"y":1.028},
      {"txt":"0.70","x":310.2,"y":1.097},
      {"txt":"0.80","x":420.3,"y":1.002},
      {"txt":"0.85","x":520.8,"y":1.002},
      {"txt":"0.90","x":258.5,"y":0.353},
      {"txt":"0.95","x":408,"y":0.353},
      {"txt":"P","x":317.3,"y":0.243},
      {"txt":"P","x":480.3,"y":0.212}
    ],
    "sub_r": [
      {"txt":"ICRH","x":355.7,"y":0.198},
      {"txt":"NNBI","x":517.4,"y":0.168}
    ],
    "ttl_r": [
      {"txt":"DT fusion rate","x":329.2,"y":1.277}
    ],
    "idtext": [
      {"txt":"ITER_20100G17_G18_G19_G20_G37_G60_vi_nhe4_t_vi_ftotdt_t","x":673,"y":0.572}
    ]
  },
  "hconcat": [
    {
      "width": 464,
      "height": 575,
      "resolve": {"axis": {"x": "independent", "y": "independent"}},
      "layer": [
        {
          "data": {"name": "pow_l"},
          "mark": {"type": "line", "color": "black", "strokeWidth": 2},
          "encoding": {
            "x": {"field": "t", "type": "quantitative", "scale": {"domain": [0, 600], "nice": false, "zero": false},
              "axis": {"orient": "bottom", "values": [0,50,100,150,200,250,300,350,400,450,500,550,600], "labelExpr": "datum.value % 200 === 0 ? datum.label : ''", "tickSize": {"condition": {"test": "datum.value % 100 === 0", "value": 22}, "value": 11}, "labelPadding": 24, "title": "Time [s]", "titlePadding": 14}},
            "y": {"field": "v", "type": "quantitative", "scale": {"domain": [0, 4], "nice": false},
              "axis": {"orient": "left", "values": [0,0.2,0.4,0.6,0.8,1,1.2,1.4,1.6,1.8,2,2.2,2.4,2.6,2.8,3,3.2,3.4,3.6,3.8,4], "labelExpr": "datum.value === 0 ? '0' : datum.value === 2 ? '2' : datum.value === 4 ? '4' : ''", "tickSize": {"condition": {"test": "datum.value % 1 === 0", "value": 17}, "value": 8}, "labelPadding": 8, "title": "[10²¹]", "titleFontSize": 30, "titleAngle": -90, "titleX": -52, "titleY": 180, "titleAlign": "center", "titleBaseline": "middle"}},
            "detail": {"field": "name", "type": "nominal"}
          }
        },
        {
          "data": {"name": "ash"},
          "mark": {"type": "line", "strokeWidth": 4, "strokeJoin": "round"},
          "encoding": {
            "x": {"field": "t", "type": "quantitative", "scale": {"domain": [0, 600], "nice": false, "zero": false},
              "axis": {"orient": "top", "values": [0,50,100,150,200,250,300,350,400,450,500,550,600], "labels": false, "title": null, "tickSize": {"condition": {"test": "datum.value % 100 === 0", "value": -22}, "value": -11}}},
            "y": {"field": "v", "type": "quantitative", "scale": {"domain": [0, 4], "nice": false},
              "axis": {"orient": "right", "values": [0,0.2,0.4,0.6,0.8,1,1.2,1.4,1.6,1.8,2,2.2,2.4,2.6,2.8,3,3.2,3.4,3.6,3.8,4], "labels": false, "title": null, "tickSize": {"condition": {"test": "datum.value % 1 === 0", "value": -17}, "value": -8}}},
            "color": {"field": "R", "type": "nominal", "legend": null, "scale": {"domain": ["0.95","0.90","0.85","0.80","0.70","0.60"], "range": ["#ff0000","#0000ff","#00ff00","#ff00ff","#000000","#ff0000"]}}
          }
        },
        {
          "data": {"name": "arr_l"},
          "mark": {"type": "rule", "color": "black", "strokeWidth": 1.5},
          "encoding": {
            "x": {"field": "x", "type": "quantitative", "scale": {"domain": [0, 600], "nice": false, "zero": false}, "axis": null},
            "y": {"field": "y", "type": "quantitative", "scale": {"domain": [0, 4], "nice": false}, "axis": null},
            "x2": {"field": "x2"},
            "y2": {"field": "y2"}
          }
        },
        {
          "data": {"name": "arr_l"},
          "transform": [{"calculate": "atan2((datum.x2 - datum.x) * 464 / 600, (datum.y2 - datum.y) * 575 / 4) * 180 / PI", "as": "ang"}],
          "mark": {"type": "point", "shape": "M0,0L-0.33,1L0.33,1Z", "filled": true, "color": "black", "opacity": 1, "size": 500},
          "encoding": {
            "x": {"field": "x2", "type": "quantitative", "scale": {"domain": [0, 600], "nice": false, "zero": false}, "axis": null},
            "y": {"field": "y2", "type": "quantitative", "scale": {"domain": [0, 4], "nice": false}, "axis": null},
            "angle": {"field": "ang", "type": "quantitative", "scale": null}
          }
        },
        {
          "data": {"name": "lab_l"},
          "mark": {"type": "text", "fontSize": 26, "align": "center", "baseline": "middle", "color": "black"},
          "encoding": {
            "x": {"field": "x", "type": "quantitative", "scale": {"domain": [0, 600], "nice": false, "zero": false}, "axis": null},
            "y": {"field": "y", "type": "quantitative", "scale": {"domain": [0, 4], "nice": false}, "axis": null},
            "text": {"field": "txt"}
          }
        },
        {
          "data": {"name": "sub_l"},
          "mark": {"type": "text", "fontSize": 19, "align": "center", "baseline": "middle", "color": "black"},
          "encoding": {
            "x": {"field": "x", "type": "quantitative", "scale": {"domain": [0, 600], "nice": false, "zero": false}, "axis": null},
            "y": {"field": "y", "type": "quantitative", "scale": {"domain": [0, 4], "nice": false}, "axis": null},
            "text": {"field": "txt"}
          }
        },
        {
          "data": {"name": "ttl_l"},
          "mark": {"type": "text", "fontSize": 23, "align": "center", "baseline": "middle", "color": "black"},
          "encoding": {
            "x": {"field": "x", "type": "quantitative", "scale": {"domain": [0, 600], "nice": false, "zero": false}, "axis": null},
            "y": {"field": "y", "type": "quantitative", "scale": {"domain": [0, 4], "nice": false}, "axis": null},
            "text": {"field": "txt"}
          }
        }
      ]
    },
    {
      "width": 442,
      "height": 575,
      "resolve": {"axis": {"x": "independent", "y": "independent"}},
      "layer": [
        {
          "data": {"name": "pow_r"},
          "mark": {"type": "line", "color": "black", "strokeWidth": 2},
          "encoding": {
            "x": {"field": "t", "type": "quantitative", "scale": {"domain": [0, 600], "nice": false, "zero": false},
              "axis": {"orient": "bottom", "values": [0,50,100,150,200,250,300,350,400,450,500,550,600], "labelExpr": "datum.value % 200 === 0 ? datum.label : ''", "tickSize": {"condition": {"test": "datum.value % 100 === 0", "value": 22}, "value": 11}, "labelPadding": 24, "title": "Time [s]", "titlePadding": 14}},
            "y": {"field": "v", "type": "quantitative", "scale": {"domain": [0, 1.2], "nice": false},
              "axis": {"orient": "left", "values": [0,0.1,0.2,0.3,0.4,0.5,0.6,0.7,0.8,0.9,1,1.1,1.2], "labelExpr": "datum.value === 0 ? '0.0' : datum.value === 0.5 ? '0.5' : datum.value === 1 ? '1.0' : ''", "tickSize": {"condition": {"test": "datum.value % 0.5 === 0", "value": 16}, "value": 7}, "labelPadding": 8, "title": "[10²⁰ / s]", "titleFontSize": 30, "titleAngle": -90, "titleX": -44, "titleY": 193, "titleAlign": "center", "titleBaseline": "middle"}},
            "detail": {"field": "name", "type": "nominal"}
          }
        },
        {
          "data": {"name": "fus"},
          "mark": {"type": "line", "strokeWidth": 4, "strokeJoin": "round"},
          "encoding": {
            "x": {"field": "t", "type": "quantitative", "scale": {"domain": [0, 600], "nice": false, "zero": false},
              "axis": {"orient": "top", "values": [0,50,100,150,200,250,300,350,400,450,500,550,600], "labels": false, "title": null, "tickSize": {"condition": {"test": "datum.value % 100 === 0", "value": -22}, "value": -11}}},
            "y": {"field": "v", "type": "quantitative", "scale": {"domain": [0, 1.2], "nice": false},
              "axis": {"orient": "right", "values": [0,0.1,0.2,0.3,0.4,0.5,0.6,0.7,0.8,0.9,1,1.1,1.2], "labels": false, "title": null, "tickSize": {"condition": {"test": "datum.value % 0.5 === 0", "value": -16}, "value": -7}}},
            "color": {"field": "R", "type": "nominal", "legend": null, "scale": {"domain": ["0.95","0.90","0.85","0.80","0.70","0.60"], "range": ["#000000","#0000ff","#00ff00","#ff00ff","#000000","#ff0000"]}}
          }
        },
        {
          "data": {"name": "arr_r"},
          "mark": {"type": "rule", "color": "black", "strokeWidth": 1.5},
          "encoding": {
            "x": {"field": "x", "type": "quantitative", "scale": {"domain": [0, 600], "nice": false, "zero": false}, "axis": null},
            "y": {"field": "y", "type": "quantitative", "scale": {"domain": [0, 1.2], "nice": false}, "axis": null},
            "x2": {"field": "x2"},
            "y2": {"field": "y2"}
          }
        },
        {
          "data": {"name": "arr_r"},
          "transform": [{"calculate": "atan2((datum.x2 - datum.x) * 442 / 600, (datum.y2 - datum.y) * 575 / 1.2) * 180 / PI", "as": "ang"}],
          "mark": {"type": "point", "shape": "M0,0L-0.33,1L0.33,1Z", "filled": true, "color": "black", "opacity": 1, "size": 500},
          "encoding": {
            "x": {"field": "x2", "type": "quantitative", "scale": {"domain": [0, 600], "nice": false, "zero": false}, "axis": null},
            "y": {"field": "y2", "type": "quantitative", "scale": {"domain": [0, 1.2], "nice": false}, "axis": null},
            "angle": {"field": "ang", "type": "quantitative", "scale": null}
          }
        },
        {
          "data": {"name": "lab_r"},
          "mark": {"type": "text", "fontSize": 26, "align": "center", "baseline": "middle", "color": "black"},
          "encoding": {
            "x": {"field": "x", "type": "quantitative", "scale": {"domain": [0, 600], "nice": false, "zero": false}, "axis": null},
            "y": {"field": "y", "type": "quantitative", "scale": {"domain": [0, 1.2], "nice": false}, "axis": null},
            "text": {"field": "txt"}
          }
        },
        {
          "data": {"name": "sub_r"},
          "mark": {"type": "text", "fontSize": 19, "align": "center", "baseline": "middle", "color": "black"},
          "encoding": {
            "x": {"field": "x", "type": "quantitative", "scale": {"domain": [0, 600], "nice": false, "zero": false}, "axis": null},
            "y": {"field": "y", "type": "quantitative", "scale": {"domain": [0, 1.2], "nice": false}, "axis": null},
            "text": {"field": "txt"}
          }
        },
        {
          "data": {"name": "ttl_r"},
          "mark": {"type": "text", "fontSize": 23, "align": "center", "baseline": "middle", "color": "black"},
          "encoding": {
            "x": {"field": "x", "type": "quantitative", "scale": {"domain": [0, 600], "nice": false, "zero": false}, "axis": null},
            "y": {"field": "y", "type": "quantitative", "scale": {"domain": [0, 1.2], "nice": false}, "axis": null},
            "text": {"field": "txt"}
          }
        },
        {
          "data": {"name": "idtext"},
          "mark": {"type": "text", "fontSize": 23.3, "font": "Liberation Sans", "align": "center", "baseline": "middle", "angle": 270, "color": "black"},
          "encoding": {
            "x": {"field": "x", "type": "quantitative", "scale": {"domain": [0, 600], "nice": false, "zero": false}, "axis": null},
            "y": {"field": "y", "type": "quantitative", "scale": {"domain": [0, 1.2], "nice": false}, "axis": null},
            "text": {"field": "txt"}
          }
        }
      ]
    }
  ]
}
